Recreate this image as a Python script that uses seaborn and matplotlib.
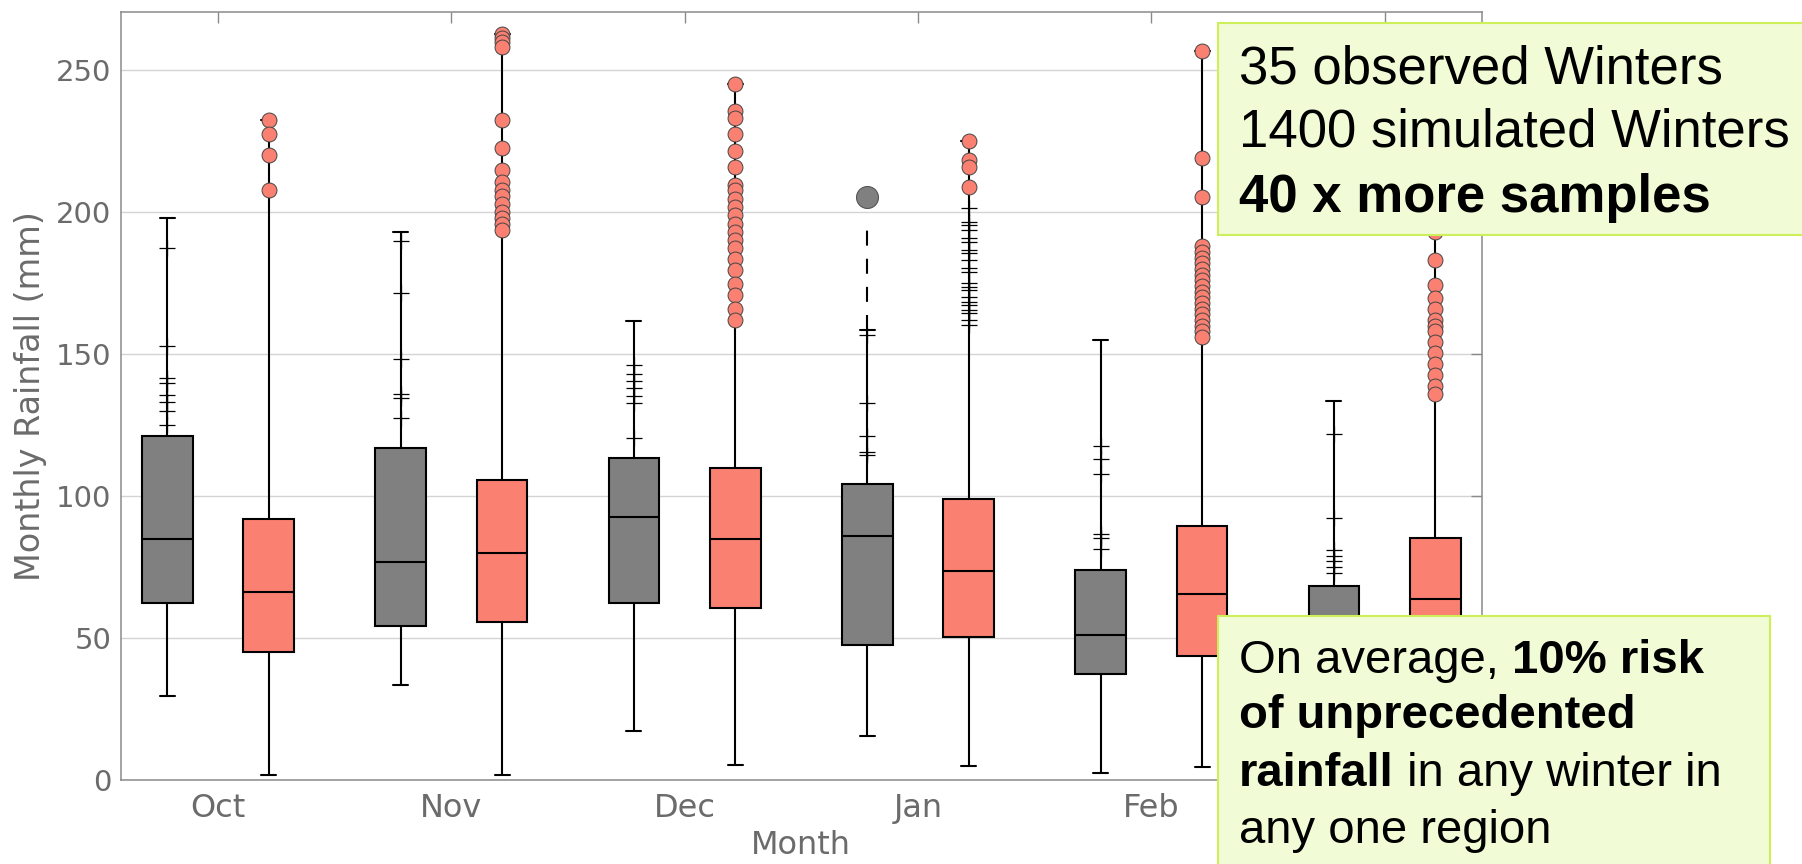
import numpy as np
import pandas as pd
import matplotlib
matplotlib.use("Agg")
import matplotlib.pyplot as plt
from matplotlib.patches import Rectangle
from matplotlib.text import Annotation
import seaborn as sns

months = ['Oct', 'Nov', 'Dec', 'Jan', 'Feb', 'Mar']
sources = ['Observed', 'Simulated']

# five-number summaries (whiskers run min..max)
obs_low = [29.7, 33.4, 17.1, 15.5, 2.3, 8.0]
obs_q1 = [62.5, 54.3, 62.5, 47.6, 37.3, 38.0]
obs_med = [84.8, 76.7, 92.8, 86.0, 51.2, 52.0]
obs_q3 = [121.1, 116.8, 113.4, 104.2, 74.1, 68.5]
obs_high = [197.8, 192.9, 161.5, 158.6, 155.1, 133.5]

sim_low = [1.7, 1.7, 5.4, 4.9, 4.5, 3.0]
sim_q1 = [45.0, 55.7, 60.6, 50.5, 43.7, 42.0]
sim_med = [66.2, 80.0, 84.8, 73.6, 65.4, 63.7]
sim_q3 = [92.0, 105.6, 109.9, 98.8, 89.3, 85.2]
sim_high = [232.5, 262.6, 245.1, 225.2, 256.8, 200.0]

# '+' marks (large values inside the observed range)
obs_plus = {
    'Oct': [187.5, 152.8, 141.5, 140.0, 135.7, 133.0, 130.0, 125.0],
    'Nov': [190.0, 171.4, 148.3, 136.0, 134.5, 127.5],
    'Dec': [146.0, 143.0, 140.7, 138.2, 135.3, 132.8, 120.3],
    'Jan': [156.6, 132.8, 121.3, 115.5, 114.3],
    'Feb': [117.8, 113.0, 107.7, 86.8, 85.4, 81.5],
    'Mar': [121.9, 92.2, 80.9, 79.0, 77.0, 75.1, 72.8],
}
sim_plus = {
    'Jan': [201.3, 196.7, 195.5, 193.7, 190.8, 189.6, 186.7, 185.5, 183.2,
            180.2, 179.0, 175.0, 173.8, 172.6, 170.2, 168.5, 167.3, 165.6,
            164.4, 162.0, 160.3],
}
# simulated values above anything observed (circles)
sim_unprecedented = {
    'Oct': [232.5, 227.7, 220.3, 207.7],
    'Nov': [262.6, 261.4, 260.0, 258.0, 232.5, 222.6, 214.7, 210.6, 207.7,
            205.7, 202.8, 199.9, 198.0, 196.0, 193.7],
    'Dec': [245.1, 235.8, 233.3, 227.7, 221.7, 216.0, 209.6, 207.7, 204.8,
            201.9, 199.0, 196.0, 193.1, 190.2, 187.3, 183.4, 179.5, 174.7,
            170.8, 166.0, 162.1],
    'Jan': [225.2, 218.4, 216.0, 208.8],
    'Feb': [256.8, 219.0, 205.4, 188.0, 186.0, 184.0, 182.0, 180.0, 178.0,
            176.0, 174.0, 172.0, 170.0, 168.0, 166.0, 164.0, 162.0, 160.0,
            158.0, 156.0],
    'Mar': [200.0, 193.0, 183.0, 174.3, 169.8, 166.0, 162.0, 160.0, 158.2,
            154.3, 150.4, 146.5, 142.7, 138.8, 135.9],
}
# one observed extreme shown as a big grey dot
obs_extreme_month = ['Jan']
obs_extreme_value = [205.5]

top_note = ['35 observed Winters', '1400 simulated Winters']
top_note_bold = '40 x more samples'

GREY = '#808080'
SALMON = '#FA8072'
TXT = '#6b6b6b'

rows = []
for i, m in enumerate(months):
    for v in (obs_low[i], obs_q1[i], obs_med[i], obs_q3[i], obs_high[i]):
        rows.append((m, 'Observed', v))
    for v in (sim_low[i], sim_q1[i], sim_med[i], sim_q3[i], sim_high[i]):
        rows.append((m, 'Simulated', v))
box_df = pd.DataFrame(rows, columns=['month', 'source', 'value'])

BOX_W = 0.87
offs = {'Observed': -BOX_W / 4, 'Simulated': BOX_W / 4}


def points(d, src):
    out = []
    for m, vals in d.items():
        for v in vals:
            out.append((months.index(m) + offs[src], v))
    return pd.DataFrame(out, columns=['x', 'value'])


sns.set_theme(style='whitegrid')
plt.rcParams['font.family'] = ['DejaVu Sans']

fig = plt.figure(figsize=(18.02, 8.64), dpi=100)
ax = fig.add_axes([0.0671, 0.0972, 0.7552, 0.8886])

sns.boxplot(data=box_df, x='month', y='value', hue='source', order=months,
            hue_order=sources, palette={'Observed': GREY, 'Simulated': SALMON},
            saturation=1, width=BOX_W, gap=0.5, whis=(0, 100),
            linecolor='black', linewidth=1.5, legend=False,
            capwidths=0.064, ax=ax)

# dashed whisker up to the observed extreme
for m, v in zip(obs_extreme_month, obs_extreme_value):
    i = months.index(m)
    x = i + offs['Observed']
    ax.plot([x, x], [obs_high[i], v - 9.5], color='black', lw=1.5,
            ls=(0, (7.2, 6.3)), zorder=3)
ext_df = pd.DataFrame({'x': [months.index(m) + offs['Observed'] for m in obs_extreme_month],
                       'value': obs_extreme_value})
sns.scatterplot(data=ext_df, x='x', y='value', marker='o', color=GREY,
                edgecolor='#555555', linewidth=0.8, s=250, zorder=4, ax=ax)

sns.scatterplot(data=pd.concat([points(obs_plus, 'Observed'), points(sim_plus, 'Simulated')]),
                x='x', y='value', marker='+', color='black', s=120,
                linewidth=0.9, zorder=4, ax=ax)
sns.scatterplot(data=points(sim_unprecedented, 'Simulated'), x='x', y='value',
                marker='o', color=SALMON, edgecolor='#444444', linewidth=0.7,
                s=115, zorder=5, ax=ax)

ax.set_xlim(-0.416, 5.416)
ax.set_ylim(0, 270.4)
ax.set_xticks(range(len(months)))
ax.set_xticklabels(months)
ax.set_yticks([0, 50, 100, 150, 200, 250])
ax.grid(axis='x', visible=False)
ax.grid(axis='y', color='#d4d4d4', lw=1.0)
ax.set_axisbelow(True)
for s in ax.spines.values():
    s.set_color('#8a8a8a')
    s.set_linewidth(1.1)
ax.tick_params(direction='in', length=8, width=1, color='#8a8a8a',
               top=True, right=True, labelcolor=TXT)
ax.tick_params(axis='x', labelsize=23, pad=9)
ax.tick_params(axis='y', labelsize=21, pad=7)
ax.set_xlabel('Month', fontsize=23, color=TXT, labelpad=5)
ax.set_ylabel('Monthly Rainfall (mm)', fontsize=24, color=TXT, labelpad=6)

# note boxes
FILL = '#F1FBD6'
EDGE = '#CDF05A'
fig.add_artist(Rectangle((0.6761, 0.7280), 0.40, 0.2457, transform=fig.transFigure,
                         facecolor=FILL, edgecolor=EDGE, lw=1.5, zorder=5))
fig.add_artist(Rectangle((0.6761, -0.05), 0.3061, 0.3374, transform=fig.transFigure,
                         facecolor=FILL, edgecolor=EDGE, lw=1.5, zorder=5))

NOTE = dict(family='Liberation Sans', color='black', va='baseline', ha='left', zorder=6)
x0 = 0.6877
fig.text(x0, 0.9036, top_note[0], fontsize=38, **NOTE)
fig.text(x0, 0.8302, top_note[1], fontsize=38, **NOTE)
fig.text(x0, 0.7550, top_note_bold, fontsize=38, fontweight='bold', **NOTE)


def chain(parts, y):
    prev = None
    for txt, bold in parts:
        w = 'bold' if bold else 'normal'
        if prev is None:
            prev = fig.text(x0, y, txt, fontsize=34, fontweight=w, **NOTE)
        else:
            a = Annotation(txt, xy=(1, 0), xycoords=prev, fontsize=34,
                           fontweight=w, family='Liberation Sans', color='black',
                           va='bottom', ha='left', zorder=6)
            fig.add_artist(a)
            prev = a


chain([('On average, ', False), ('10% risk', True)], 0.2214)
chain([('of unprecedented', True)], 0.1571)
chain([('rainfall', True), (' in any winter in', False)], 0.0903)
chain([('any one region', False)], 0.0247)

fig.savefig('out.png', dpi=100)
